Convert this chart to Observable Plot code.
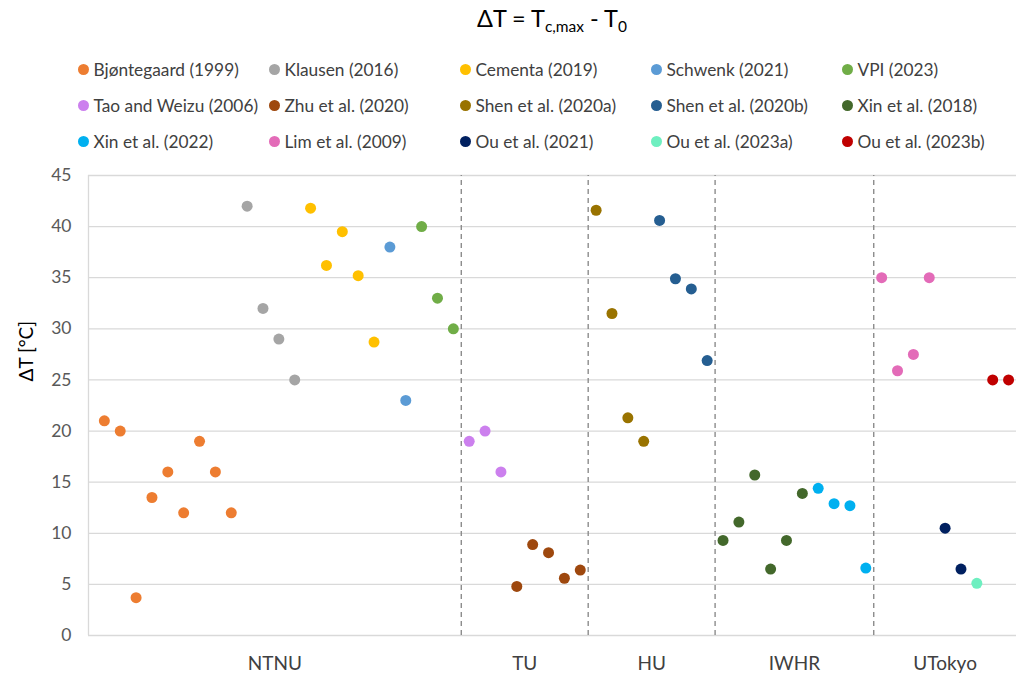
<!DOCTYPE html>
<html>
<head>
<meta charset="utf-8">
<script src="https://cdn.jsdelivr.net/npm/d3@7"></script>
<script src="https://cdn.jsdelivr.net/npm/@observablehq/plot@0.6"></script>
<style>
  html, body { margin: 0; padding: 0; background: #fff; }
  body { width: 1016px; height: 676px; overflow: hidden; font-family: Lato, "Open Sans", sans-serif; }
  #header { position: relative; width: 1016px; height: 160px; }
  #title { position: absolute; left: 88px; width: 928px; top: 3px; text-align: center; font-size: 23.5px; color: #000; line-height: 30px; }
  #title sub { font-size: 15.5px; vertical-align: -5px; line-height: 0; }
  #legend { position: absolute; left: 78px; top: 51px; display: grid; grid-template-columns: repeat(5, 191px); grid-auto-rows: 36px; }
  .item { display: flex; align-items: center; font-size: 17.3px; color: #404040; white-space: nowrap; }
  .sw { width: 11px; height: 11px; border-radius: 50%; margin-right: 4.5px; flex: none; }
</style>
</head>
<body>
<div id="header">
  <div id="title">ΔT = T<sub>c,max</sub> - T<sub>0</sub></div>
  <div id="legend"></div>
</div>
<div id="chart"></div>
<script>
// ---- Data ----
const seriesNames = [
  "Bjøntegaard (1999)", "Klausen (2016)", "Cementa (2019)", "Schwenk (2021)", "VPI (2023)",
  "Tao and Weizu (2006)", "Zhu et al. (2020)", "Shen et al. (2020a)", "Shen et al. (2020b)", "Xin et al. (2018)",
  "Xin et al. (2022)", "Lim et al. (2009)", "Ou et al. (2021)", "Ou et al. (2023a)", "Ou et al. (2023b)"
];
const seriesColors = [
  "#ED7D31", "#A5A5A5", "#FFC000", "#5B9BD5", "#70AD47",
  "#CC80EE", "#9E480E", "#997300", "#255E91", "#43682B",
  "#00B0F0", "#E36BB8", "#002060", "#6EEFC0", "#C00000"
];
const seriesGroup = [
  "NTNU", "NTNU", "NTNU", "NTNU", "NTNU",
  "TU", "TU", "HU", "HU", "IWHR",
  "IWHR", "UTokyo", "UTokyo", "UTokyo", "UTokyo"
];
const groups = ["NTNU", "TU", "HU", "IWHR", "UTokyo"];

const bjontegaard = [21.0, 20.0, 3.7, 13.5, 16.0, 12.0, 19.0, 16.0, 12.0];
const klausen = [42.0, 32.0, 29.0, 25.0];
const cementa = [41.8, 36.2, 39.5, 35.2, 28.7];
const schwenk = [38.0, 23.0];
const vpi = [40.0, 33.0, 30.0];
const taoWeizu = [19.0, 20.0, 16.0];
const zhu = [4.8, 8.9, 8.1, 5.6, 6.4];
const shenA = [41.6, 31.5, 21.3, 19.0];
const shenB = [40.6, 34.9, 33.9, 26.9];
const xin2018 = [9.3, 11.1, 15.7, 6.5, 9.3, 13.9];
const xin2022 = [14.4, 12.9, 12.7, 6.6];
const lim = [35.0, 25.9, 27.5, 35.0];
const ou2021 = [10.5, 6.5];
const ou2023a = [5.1];
const ou2023b = [25.0, 25.0];

const seriesValues = [bjontegaard, klausen, cementa, schwenk, vpi, taoWeizu, zhu, shenA, shenB,
  xin2018, xin2022, lim, ou2021, ou2023a, ou2023b];

const yTicks = [0, 5, 10, 15, 20, 25, 30, 35, 40, 45];
const yTitle = "ΔT [°C]";

// ---- Build table ----
const points = [];
let idx = 0;
seriesValues.forEach((vals, s) => {
  vals.forEach(v => { idx += 1; points.push({i: idx, v, series: seriesNames[s], group: seriesGroup[s]}); });
});
const total = idx;
const edges = [0];
groups.forEach(g => {
  const last = d3.max(points.filter(p => p.group === g), p => p.i);
  edges.push(last + 0.5);
});
const separators = edges.slice(1, -1);
const groupLabels = groups.map((g, k) => ({g, x: (edges[k] + edges[k + 1]) / 2}));

// ---- Legend ----
const legend = document.getElementById("legend");
seriesNames.forEach((n, k) => {
  const it = document.createElement("div");
  it.className = "item";
  it.innerHTML = `<span class="sw" style="background:${seriesColors[k]}"></span><span>${n}</span>`;
  legend.appendChild(it);
});

// ---- Chart ----
const chart = Plot.plot({
  width: 1016,
  height: 516,
  marginLeft: 88,
  marginRight: 0,
  marginTop: 15,
  marginBottom: 41,
  style: {fontFamily: "Lato, 'Open Sans', sans-serif", background: "#fff", overflow: "visible"},
  x: {domain: [0, total + 0.5], axis: null},
  y: {domain: [0, 45], axis: null},
  color: {domain: seriesNames, range: seriesColors},
  marks: [
    Plot.ruleY(yTicks, {stroke: "#d9d9d9", strokeWidth: 1.3}),
    Plot.ruleX([0], {y1: 0, y2: 45, stroke: "#d9d9d9", strokeWidth: 1.3}),
    Plot.ruleX(separators, {y1: 0, y2: 45, stroke: "#8c8c8c", strokeWidth: 1.4, strokeDasharray: "5,4"}),
    Plot.axisY({ticks: yTicks, tickSize: 0, tickPadding: 17, fontSize: 17.5, fill: "#595959", label: null}),
    Plot.text([yTitle], {frameAnchor: "left", dx: -62, dy: -24, rotate: -90, fontSize: 19, fill: "#000"}),
    Plot.text(groupLabels, {x: "x", y: () => 0, dy: 28, text: "g", fontSize: 19, fill: "#404040"}),
    Plot.dot(points, {x: "i", y: "v", fill: "series", r: 5.5, stroke: null})
  ]
});
document.getElementById("chart").appendChild(chart);
</script>
</body>
</html>
